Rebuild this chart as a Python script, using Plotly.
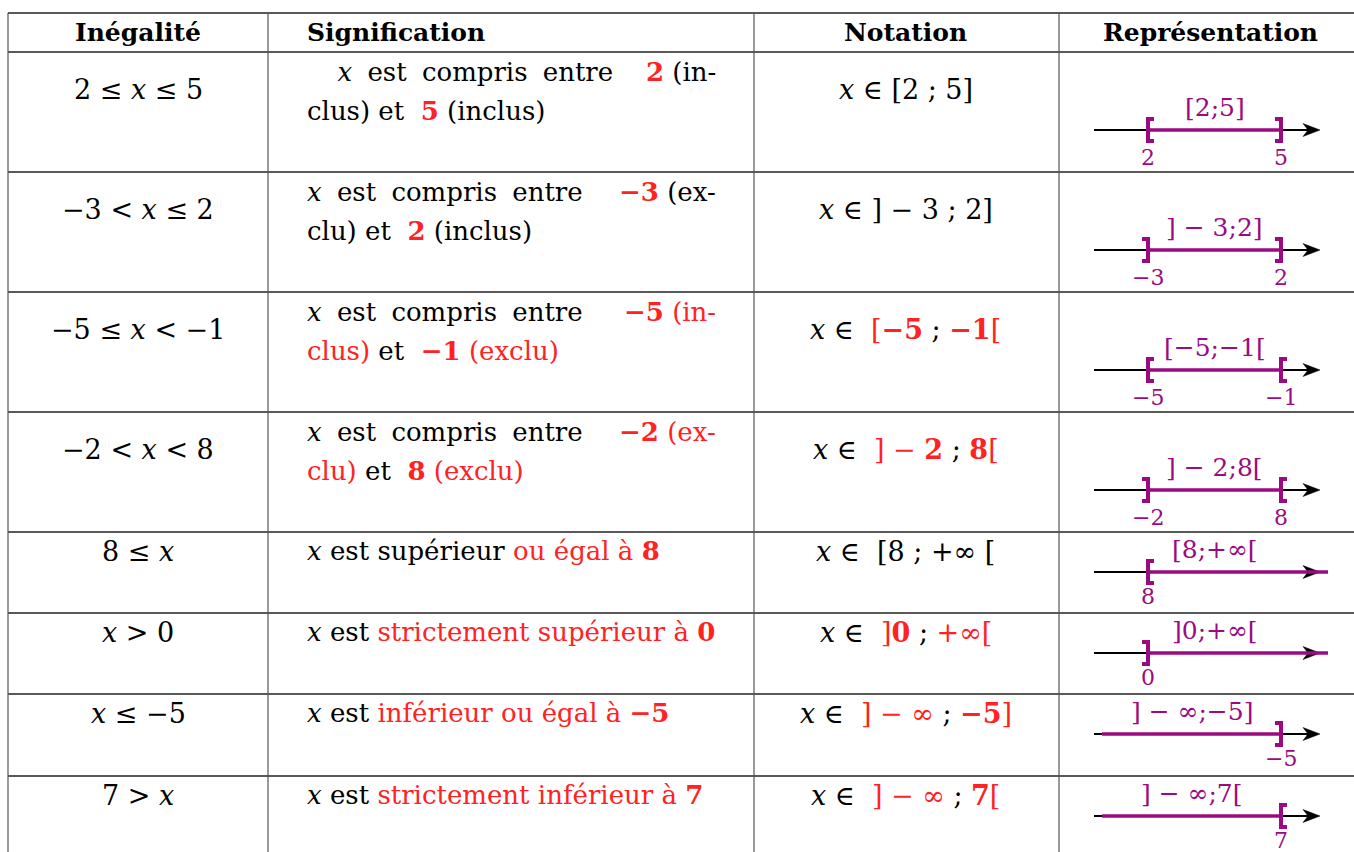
import re
import plotly.graph_objects as go

# ---------------- data ----------------
headers = ["Inégalité", "Signification", "Notation", "Représentation"]

inequalities = ["2 ≤ $x$ ≤ 5", "−3 &lt; $x$ ≤ 2", "−5 ≤ $x$ &lt; −1", "−2 &lt; $x$ &lt; 8",
                "8 ≤ $x$", "$x$ &gt; 0", "$x$ ≤ −5", "7 &gt; $x$"]

# {..} = red bold, |..| = red regular
sig_line1 = ["\u00a0\u00a0$x$ est compris entre", "$x$ est compris entre",
             "$x$ est compris entre", "$x$ est compris entre",
             "$x$ est supérieur |ou égal à |{8}", "$x$ est |strictement supérieur à |{0}",
             "$x$ est |inférieur ou égal à |{−5}", "$x$ est |strictement inférieur à |{7}"]
sig_line1_end = ["{2} (in-", "{−3} (ex-", "{−5}| (in-|", "{−2}| (ex-|", "", "", "", ""]
sig_line2 = ["clus) et \u00a0{5} (inclus)", "clu) et \u00a0{2} (inclus)",
             "|clus)| et \u00a0{−1}| (exclu)|", "|clu)| et \u00a0{8}| (exclu)|", "", "", "", ""]

notations = ["$x$ ∈ [2 ; 5]", "$x$ ∈ ] − 3 ; 2]", "$x$ ∈ \u00a0|[|{−5} ; {−1}|[|",
             "$x$ ∈ \u00a0|] − |{2} ; {8}|[|", "$x$ ∈ \u00a0[8 ; +∞ [",
             "$x$ ∈ \u00a0|]|{0} ; |+∞[|", "$x$ ∈ \u00a0|] − ∞| ; {−5}|]|",
             "$x$ ∈ \u00a0|] − ∞| ; {7}|[|"]

lower = [2, -3, -5, -2, 8, 0, None, None]
upper = [5, 2, -1, 8, None, None, -5, 7]
lower_closed = [True, False, True, False, True, False, None, None]
upper_closed = [True, True, False, False, None, None, True, False]
interval_labels = ["[2;5]", "] − 3;2]", "[−5;−1[", "] − 2;8[",
                   "[8;+∞[", "]0;+∞[", "] − ∞;−5]", "] − ∞;7["]

# ---------------- style / layout ----------------
W, H = 1354, 852
FONT = "DejaVu Serif"
RED = "#FF2222"
PURPLE = "#9B0A80"
SIZE = 26
MATH_SIZE = 27

col_x = [8, 268, 754, 1059, 1362]
table_top = 13
header_bottom = 52
row_heights = [120, 120, 120, 120, 81, 81, 82, 140]
tall = [True, True, True, True, False, False, False, False]

row_tops = []
y = header_bottom
for h in row_heights:
    row_tops.append(y)
    y += h


def markup(s):
    s = s.replace("$x$", "<i>x</i>")
    s = re.sub(r"\{(.*?)\}", lambda m: f"<span style='color:{RED}'><b>{m.group(1)}</b></span>", s)
    s = re.sub(r"\|(.*?)\|", lambda m: f"<span style='color:{RED}'>{m.group(1)}</span>", s)
    return s


def fmt(v):
    return str(v).replace("-", "−")


fig = go.Figure()
shapes = []
annotations = []


def text(x, y, s, anchor="center", size=SIZE, color="black"):
    annotations.append(dict(x=x, y=y, xref="x", yref="y", text=s, showarrow=False,
                            xanchor=anchor, yanchor="middle",
                            font=dict(family=FONT, size=size, color=color)))


def line(x0, y0, x1, y1, color="black", width=1.5):
    shapes.append(dict(type="line", xref="x", yref="y", x0=x0, y0=y0, x1=x1, y1=y1,
                       line=dict(color=color, width=width)))


# grid
for yy in [table_top, header_bottom] + row_tops[1:]:
    line(col_x[0], yy, W + 10, yy, color="#222", width=1.6)
for xx in col_x:
    line(xx, table_top, xx, H + 10, color="#555", width=1.2)

# headers
hy = (table_top + header_bottom) / 2
text((col_x[0] + col_x[1]) / 2, hy, f"<b>{headers[0]}</b>", size=25)
text(col_x[1] + 37, hy, f"<b>{headers[1]}</b>", anchor="left", size=25)
text((col_x[2] + col_x[3]) / 2 - 1, hy, f"<b>{headers[2]}</b>", size=25)
text((col_x[3] + col_x[4]) / 2, hy, f"<b>{headers[3]}</b>", size=25)

c4 = col_x[3]
for i in range(len(inequalities)):
    t = row_tops[i]
    if tall[i]:
        ym, y1, y2, ya, yl, yt = t + 37, t + 20, t + 59, t + 78, t + 55, t + 105
    else:
        ym, y1, y2, ya, yl, yt = t + 19, t + 19, None, t + 40, t + 17, t + 64

    text((col_x[0] + col_x[1]) / 2, ym, markup(inequalities[i]), size=MATH_SIZE)
    if sig_line1_end[i]:
        # justified first line: stretch inter-word spacing
        text(col_x[1] + 37, y1, "<span style='word-spacing:7px'>" + markup(sig_line1[i]) + "</span>",
             anchor="left")
        text(col_x[2] - 36, y1, markup(sig_line1_end[i]), anchor="right")
    else:
        text(col_x[1] + 37, y1, markup(sig_line1[i]), anchor="left")
    if sig_line2[i]:
        text(col_x[1] + 37, y2, markup(sig_line2[i]), anchor="left")
    text((col_x[2] + col_x[3]) / 2 - 1, ym, markup(notations[i]), size=MATH_SIZE)

    # number line
    x_start, x_lo, x_hi, x_tip = c4 + 35, c4 + 89, c4 + 222, c4 + 261
    line(x_start, ya, x_tip - 6, ya, color="black", width=2)
    shapes.append(dict(type="path", xref="x", yref="y",
                       path=f"M {x_tip},{ya} L {x_tip-17},{ya-6.5} L {x_tip-12},{ya} L {x_tip-17},{ya+6.5} Z",
                       fillcolor="black", line=dict(color="black", width=0.5)))
    lo_px = x_lo if lower[i] is not None else c4 + 43
    hi_px = x_hi if upper[i] is not None else c4 + 269
    line(lo_px, ya, hi_px, ya, color=PURPLE, width=3.6)
    ends = []
    if lower[i] is not None:
        ends.append((x_lo, lower[i], 6 if lower_closed[i] else -6))
    if upper[i] is not None:
        ends.append((x_hi, upper[i], -6 if upper_closed[i] else 6))
    for (bx, val, s) in ends:
        shapes.append(dict(type="path", xref="x", yref="y",
                           path=f"M {bx+s},{ya-11} L {bx},{ya-11} L {bx},{ya+11} L {bx+s},{ya+11}",
                           line=dict(color=PURPLE, width=4)))
        text(bx, yt, fmt(val), size=22, color=PURPLE)
    text((lo_px + x_hi) / 2, yl, interval_labels[i], size=25, color=PURPLE)

fig.update_layout(
    width=W, height=H,
    margin=dict(l=0, r=0, t=0, b=0),
    paper_bgcolor="white", plot_bgcolor="white",
    xaxis=dict(range=[0, W], visible=False, fixedrange=True),
    yaxis=dict(range=[H, 0], visible=False, fixedrange=True),
    shapes=shapes, annotations=annotations, showlegend=False,
)

fig.write_html("out.html", config={"displayModeBar": False},
               post_script="document.body.style.margin='0';document.body.style.overflow='hidden';")
